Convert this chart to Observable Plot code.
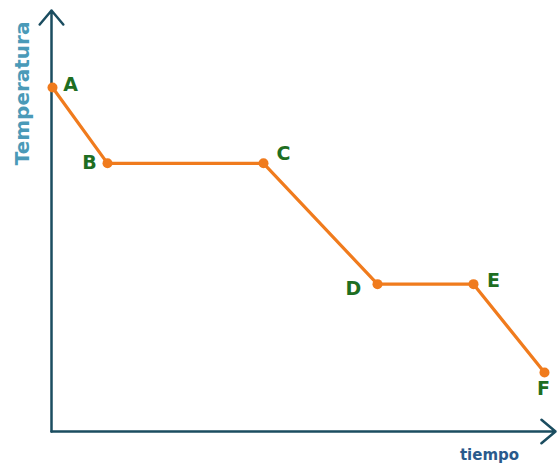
<!DOCTYPE html>
<html>
<head>
<meta charset="utf-8">
<script src="https://cdn.jsdelivr.net/npm/d3@7"></script>
<script src="https://cdn.jsdelivr.net/npm/@observablehq/plot@0.6"></script>
<style>
  html, body { margin: 0; padding: 0; background: #fff; }
</style>
</head>
<body>
<div id="chart"></div>
<script>
// Data
const labels = ["A", "B", "C", "D", "E", "F"];
const tiempo = [0.2, 11.2, 42.4, 65.2, 84.4, 98.6];
const temperatura = [81.7, 63.7, 63.7, 35.0, 35.0, 14.0];
const xAxisTitle = "tiempo";
const yAxisTitle = "Temperatura";

const pts = labels.map((l, i) => ({label: l, t: tiempo[i], T: temperatura[i]}));

// label offsets (styling)
const off = {A: [18, -3], B: [-18, 0], C: [20, -9], D: [-24, 5], E: [20, -3], F: [-1, 16]};

const orange = "#f07b1d";
const green = "#1e6e22";
const axisCol = "#1b4d60";

const labelMarks = pts.map(p => Plot.text([p], {
  x: "t", y: "T", text: "label",
  dx: off[p.label][0], dy: off[p.label][1],
  fill: green, fontSize: 19, fontWeight: "bold"
}));

const chart = Plot.plot({
  width: 557,
  height: 467,
  marginLeft: 51,
  marginRight: 6,
  marginTop: 10,
  marginBottom: 36,
  style: {fontFamily: "DejaVu Sans", background: "#fff"},
  x: {domain: [0, 100], axis: null},
  y: {domain: [0, 100], axis: null},
  marks: [
    Plot.arrow([{x1: 0, y1: 0, x2: 0, y2: 100}], {x1: "x1", y1: "y1", x2: "x2", y2: "y2", stroke: axisCol, strokeWidth: 2.5, headLength: 11, headAngle: 80}),
    Plot.arrow([{x1: 0, y1: 0, x2: 100.8, y2: 0}], {x1: "x1", y1: "y1", x2: "x2", y2: "y2", stroke: axisCol, strokeWidth: 2.5, headLength: 11, headAngle: 80}),
    Plot.line(pts, {x: "t", y: "T", stroke: orange, strokeWidth: 3.2}),
    Plot.dot(pts, {x: "t", y: "T", r: 5, fill: orange}),
    ...labelMarks,
    Plot.text([yAxisTitle], {x: -5.8, y: 80.3, text: d => d, rotate: -90, fill: "#4a9ab8", fontSize: 20, fontWeight: "bold"}),
    Plot.text([xAxisTitle], {x: 87.6, y: -4.3, text: d => d, lineAnchor: "top", fill: "#2a5a8c", fontSize: 15, fontWeight: "bold"})
  ]
});
document.getElementById("chart").appendChild(chart);
</script>
</body>
</html>
